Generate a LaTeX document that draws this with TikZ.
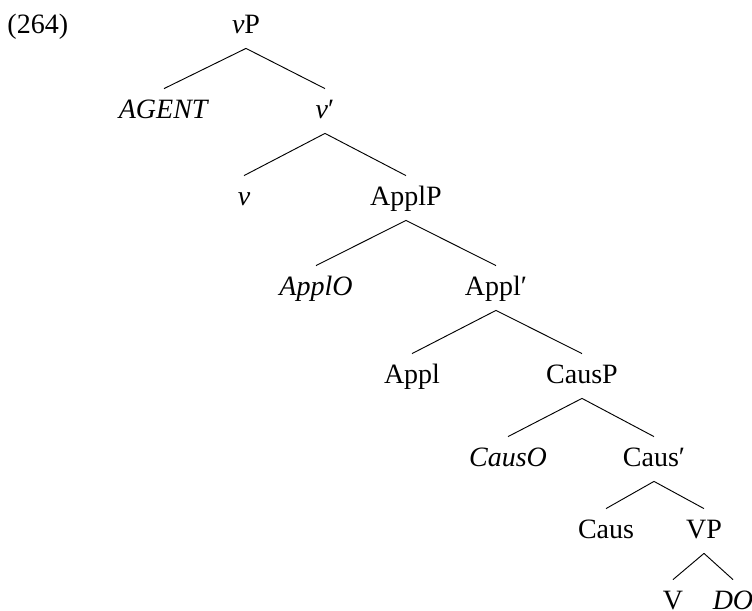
\documentclass[tikz,border=0pt]{standalone}
\usepackage{fontspec}
\setmainfont{Liberation Serif}

\begin{document}
\begin{tikzpicture}[x=0.4286pt, y=-0.4286pt, font=\fontsize{12}{14}\selectfont,
  no/.style={anchor=base, text height=9pt, text depth=3pt, inner sep=3.4pt}]
\useasboundingbox (0,0) rectangle (752,611);
% numero do exemplo
\node [anchor=base west, inner sep=0pt](num) at (7,33){(264)};

% nos da arvore
\node [no](vp) at (246,33){\textit{v}P};
\node [no](agent) at (164,118){\textit{AGENT}};
\node [no](vbar) at (325,118){\textit{v}′};
\node [no](v) at (244,205){\textit{v}};
\node [no](applp) at (406,205){ApplP};
\node [no](applo) at (316,295){\textit{ApplO}};
\node [no](applbar) at (496,295){Appl′};
\node [no](appl) at (412,383){Appl};
\node [no](causp) at (582,383){CausP};
\node [no](causo) at (508,466){\textit{CausO}};
\node [no](causbar) at (654,466){Caus′};
\node [no](caus) at (606,538){Caus};
\node [no](vpbig) at (704,538){VP};
\node [no](verb) at (673,609){V};
\node [no](do) at (733,609){\textit{DO}};

% ramos
\draw (vp.south) -- (agent.north);
\draw (vp.south) -- (vbar.north);
\draw (vbar.south) -- (v.north);
\draw (vbar.south) -- (applp.north);
\draw (applp.south) -- (applo.north);
\draw (applp.south) -- (applbar.north);
\draw (applbar.south) -- (appl.north);
\draw (applbar.south) -- (causp.north);
\draw (causp.south) -- (causo.north);
\draw (causp.south) -- (causbar.north);
\draw (causbar.south) -- (caus.north);
\draw (causbar.south) -- (vpbig.north);
\draw (vpbig.south) -- (verb.north);
\draw (vpbig.south) -- (do.north);

\end{tikzpicture}
\end{document}
